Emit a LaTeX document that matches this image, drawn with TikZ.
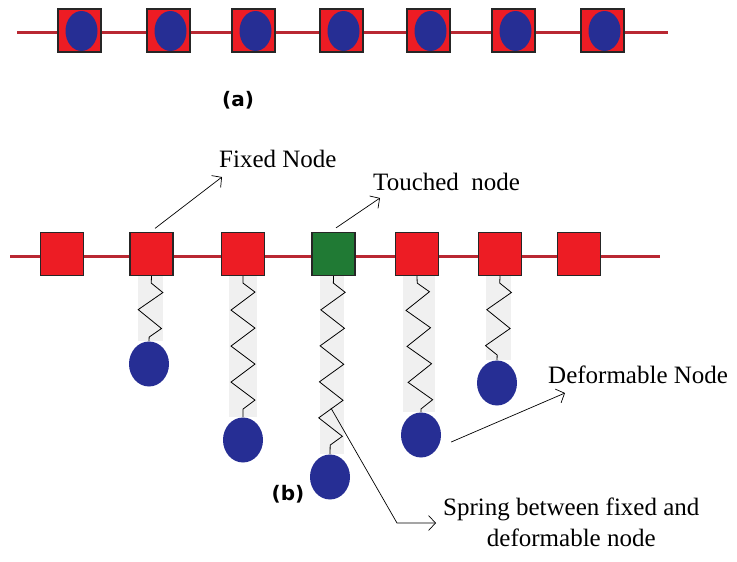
\documentclass[tikz,border=0pt]{standalone}
\usepackage{fontspec}
\setmainfont{Liberation Serif}
\setsansfont{DejaVu Sans}
\usetikzlibrary{arrows.meta,positioning,shapes.geometric,calc,backgrounds,decorations.pathmorphing}

\definecolor{nodered}{RGB}{237,28,36}
\definecolor{touchgreen}{RGB}{32,122,52}
\definecolor{ballblue}{RGB}{38,46,148}
\definecolor{wirered}{RGB}{185,40,50}

\begin{document}
\begin{tikzpicture}[
            x=1pt, y=-1pt,
            font=\fontsize{25}{31}\selectfont,
        % string of mass points and the fixed ones on it
            wire/.style={draw=wirered, line width=3pt},
            fixnd/.style={draw=black!85, fill=nodered, line width=1.2pt,
            minimum size=43pt, inner sep=0pt},
            touchnd/.style={fixnd, fill=touchgreen},
            defnd/.style={ellipse, fill=ballblue, minimum width=40pt,
            minimum height=45pt, inner sep=0pt},
            innernd/.style={ellipse, fill=ballblue, minimum width=32pt,
            minimum height=40pt, inner sep=0pt},
        % springs hang below the fixed nodes, on a light stippled band
            spring/.style={decorate, decoration={zigzag, segment length=36pt,
            amplitude=12pt, pre length=7pt, post length=3pt}, line width=0.8pt},
            springbg/.style={fill=black!6},
            annot/.style={-{Straight Barb[length=7pt,width=15pt]}, line width=0.7pt},
            lbl/.style={inner sep=0pt},
            tag/.style={font=\sffamily\bfseries\fontsize{20}{22}\selectfont}
        ]
            \useasboundingbox (0,0) rectangle (737,562);

% --- (a) every node sits on the string ---
            \coordinate (alft) at (17,32);
            \coordinate (argt) at (668,32);
            \draw[wire] (alft) -- (argt);
            \foreach \x [count=\i] in {79.5,168.5,253.5,341.5,428.5,513.5,602.5} {
            \node[fixnd] (a\i) at (\x,30.5) {};
            \node[innernd] (ai\i) at (\x+2,31) {};
            }
            \node[tag] (taga) at (238,100) {(a)};

% --- (b) fixed nodes on the string ---
            \coordinate (blft) at (10,256);
            \coordinate (brgt) at (660,256);
            \draw[wire] (blft) -- (brgt);
            \node[fixnd] (b1) at (62,254) {};
            \node[fixnd] (b2) at (151.5,254) {};
            \node[fixnd] (b3) at (243,254) {};
            \node[touchnd] (b4) at (333.5,254) {};
            \node[fixnd] (b5) at (417,254) {};
            \node[fixnd] (b6) at (500,254) {};
            \node[fixnd] (b7) at (579,254) {};

% --- deformable nodes ---
            \node[defnd] (d2) at (149,364) {};
            \node[defnd] (d3) at (243,440) {};
            \node[defnd] (d4) at (330,477) {};
            \node[defnd] (d5) at (421,435) {};
            \node[defnd] (d6) at (497,383) {};

% --- springs, kept under the nodes ---
            \begin{pgfonlayer}{background}
            \foreach \i in {2,...,6} {
            \fill[springbg] ($(b\i.south)+(-14,0)$) rectangle ($(d\i.north)+(14,0)$);
            }
            \foreach \i in {2,...,6} {
            \draw[spring] (b\i.south) -- (d\i.north);
            }
            \end{pgfonlayer}

% --- labels ---
            \node[lbl, anchor=base west] (lblfix) at (219,167) {Fixed Node};
            \node[lbl, anchor=base west] (lbltouch) at (373,190) {Touched\ \ node};
            \node[lbl, anchor=base west] (lbldef) at (548,383) {Deformable Node};
            \node[lbl, anchor=north west, align=center] (lblspring) at (443,498)
            {Spring between fixed and\\deformable node};
            \node[tag] (tagb) at (288,494) {(b)};

% --- pointers ---
            \coordinate (fixtip) at (222,177);
            \coordinate (touchtip) at (380,198);
            \coordinate (deftip) at (565,393);
            \coordinate (springpt) at ($(b4.south)!0.74!(d4.north)$);
            \coordinate (springbend) at (397,523);
            \coordinate (springtip) at (436,523);
            \draw[annot] ($(b2.north)+(3.5,-3.5)$) -- (fixtip);
            \draw[annot] ($(b4.north)+(2.5,-4)$) -- (touchtip);
            \draw[annot] ($(d5.east)+(10,7)$) -- (deftip);
            \draw[annot] (springpt) -- (springbend) -- (springtip);
        \end{tikzpicture}
\end{document}
